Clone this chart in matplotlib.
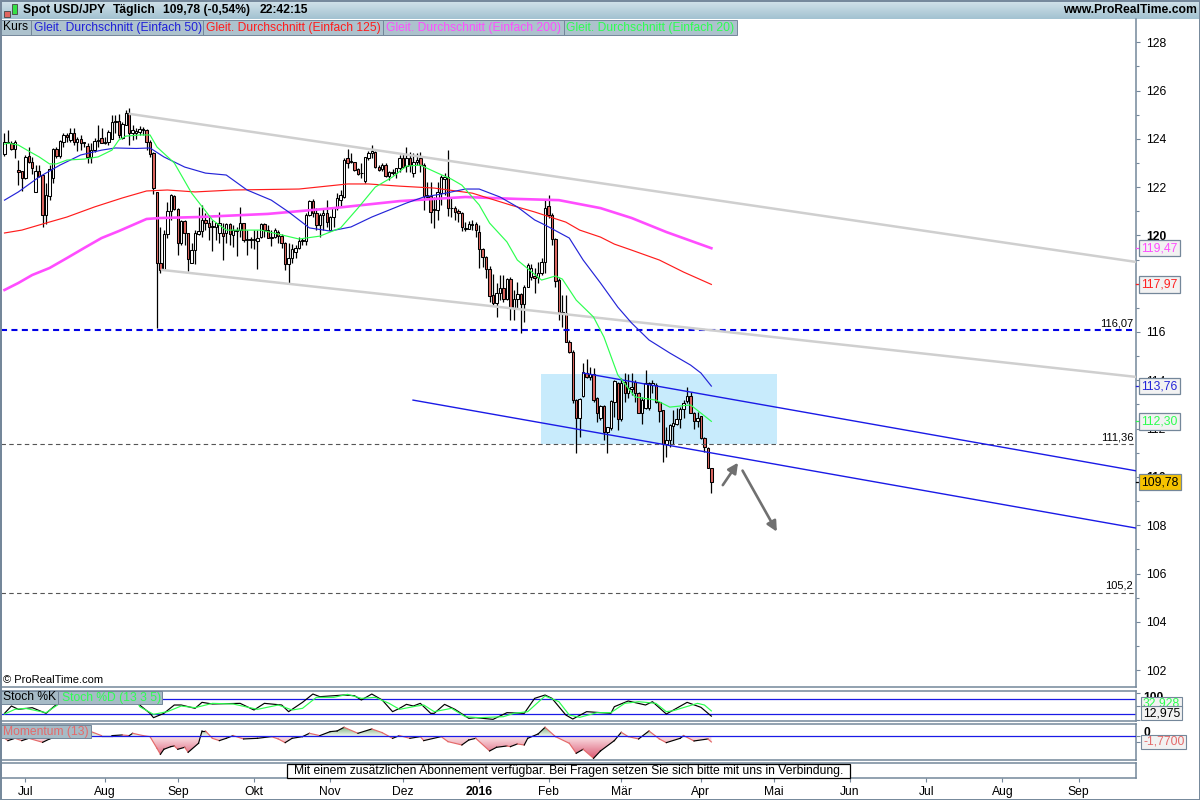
import numpy as np
import matplotlib
matplotlib.use('Agg')
from matplotlib import pyplot as plt
from matplotlib.patches import Rectangle
from matplotlib.path import Path
from matplotlib.colors import LinearSegmentedColormap

plt.rcParams['font.family'] = ['Liberation Sans', 'DejaVu Sans']

# candles, one value per trading day
opens = [123.39,123.81,123.81,123.56,122.70,122.67,122.38,123.28,123.05,121.81,
         122.66,122.49,120.84,121.64,122.36,123.56,123.30,123.88,124.15,123.97,
         124.26,123.85,124.01,123.81,123.70,123.25,123.53,123.89,124.05,123.83,
         123.87,124.01,124.68,124.73,124.04,124.59,125.08,124.25,124.25,124.29,
         124.36,124.36,123.87,123.42,121.81,118.84,118.57,120.04,121.01,121.63,
         121.08,119.67,120.61,120.09,118.87,119.40,120.06,120.20,120.64,120.50,
         120.33,120.36,120.09,120.09,120.09,120.46,120.02,120.20,120.22,120.50,
         119.81,119.81,119.81,119.78,119.95,120.46,120.22,119.91,119.92,120.15,
         119.99,119.70,118.82,119.05,119.33,119.46,119.77,119.77,120.84,121.44,
         120.91,120.43,120.83,120.91,120.22,120.75,121.12,121.47,121.60,123.19,
         123.03,123.05,122.74,122.57,122.27,123.19,123.40,123.47,122.85,122.74,
         122.91,122.47,122.60,122.60,122.78,123.19,122.87,123.19,122.60,123.05,
         123.19,122.91,121.60,121.63,121.05,121.05,121.74,122.32,122.43,121.12,
         121.15,121.01,120.94,120.28,120.28,120.43,120.46,120.13,119.42,119.09,
         118.59,117.52,117.19,117.60,117.81,117.37,118.18,116.99,117.35,117.56,
         117.16,117.88,118.29,118.32,118.29,118.43,118.89,121.22,120.85,119.84,
         118.15,116.82,116.80,115.60,115.19,113.18,112.45,113.36,114.32,114.12,
         114.26,113.25,112.43,112.94,111.87,112.01,113.12,113.90,112.38,113.94,
         113.46,113.65,113.94,113.46,112.66,112.84,112.84,113.81,113.81,113.09,
         112.77,111.35,111.53,112.12,112.19,112.40,112.80,113.16,113.35,112.66,
         112.33,112.52,111.60,111.18,110.36]
closes = [123.87,123.87,123.56,123.87,122.61,122.38,123.25,123.02,122.80,122.66,
          122.47,120.84,121.67,122.77,123.57,123.30,123.90,124.15,124.08,124.26,
          123.85,124.01,123.83,123.87,123.25,123.53,123.92,123.94,123.83,123.87,
          124.29,124.70,124.73,124.15,124.61,125.08,124.25,124.36,124.33,124.39,
          124.39,123.88,123.39,121.96,118.84,118.57,120.04,121.01,121.67,121.08,
          119.67,120.61,120.09,119.01,119.40,120.09,120.20,120.64,120.53,120.33,
          120.40,120.50,120.50,119.99,120.46,120.06,120.22,120.22,120.53,119.81,
          119.84,119.84,119.84,119.88,120.46,120.22,119.91,119.93,120.22,119.99,
          119.70,118.80,119.05,119.42,119.46,119.77,119.81,120.84,121.44,120.91,
          120.43,120.84,120.94,120.57,120.75,121.12,121.53,121.67,123.12,123.01,
          123.08,122.71,122.54,122.60,123.23,123.43,123.49,122.85,122.71,122.91,
          122.47,122.64,122.64,122.78,123.19,122.85,123.19,122.91,123.05,123.12,
          122.91,121.64,121.67,120.96,121.08,121.81,122.43,122.43,121.13,121.15,
          120.98,120.91,120.36,120.32,120.47,120.47,120.22,119.42,119.09,118.59,
          117.51,117.21,117.60,117.81,117.37,118.18,116.99,117.37,117.56,117.16,
          117.88,118.77,118.64,118.22,118.43,118.91,121.12,120.85,119.84,118.13,
          116.80,116.80,115.60,115.16,113.18,112.45,113.21,114.33,114.12,114.26,
          113.18,112.63,112.94,111.87,112.05,113.14,113.97,112.38,113.90,113.46,
          113.70,113.71,113.46,112.66,113.19,113.87,113.87,113.90,113.09,112.74,
          111.35,111.53,112.15,112.22,112.40,112.81,113.05,113.35,112.66,112.33,
          112.45,111.63,111.23,110.36,109.78]
highs = [124.22,124.36,123.92,123.94,123.14,122.67,123.32,123.67,123.25,122.91,
         122.91,122.50,122.15,122.91,123.60,123.67,123.94,124.22,124.25,124.43,
         124.43,124.08,124.15,123.87,123.83,123.81,124.05,124.57,124.43,124.08,
         124.36,124.98,124.98,125.02,124.70,125.19,125.26,124.57,124.43,124.52,
         124.50,124.39,123.94,123.46,121.81,120.36,120.22,121.40,121.70,121.66,
         121.12,120.64,120.64,120.09,119.67,120.22,121.16,121.26,120.91,120.75,
         120.64,120.53,120.96,120.50,120.50,120.50,120.43,120.36,121.19,120.50,
         120.22,119.95,120.22,120.22,120.50,120.50,120.43,120.22,120.29,120.22,
         120.06,119.74,119.67,119.63,119.60,119.95,119.88,120.91,121.47,121.49,
         121.12,120.91,121.12,121.47,120.80,121.19,121.74,121.88,123.19,123.56,
         123.40,123.05,122.78,122.98,123.26,123.51,123.74,123.49,122.91,122.98,
         122.98,122.68,122.74,122.80,123.33,123.40,123.67,123.47,123.40,123.40,
         123.47,122.98,122.22,122.22,121.60,122.22,122.50,122.57,123.54,121.54,
         121.22,121.08,120.98,120.57,120.61,120.64,120.57,120.43,119.47,119.15,
         118.73,118.39,118.02,118.36,118.36,118.22,118.29,117.74,118.08,117.60,
         117.95,118.84,118.82,118.64,118.91,119.05,121.47,121.67,120.91,119.88,
         118.22,117.53,117.53,115.67,115.25,113.21,113.25,114.70,114.87,114.56,
         114.50,113.32,112.98,112.98,112.08,113.18,114.01,113.94,114.08,114.29,
         114.26,114.29,114.01,113.53,113.32,114.43,113.94,114.01,113.87,113.12,
         112.77,112.08,112.19,112.77,112.84,112.91,113.18,113.71,113.53,112.70,
         112.70,112.52,111.64,111.22,110.36]
lows = [123.30,123.81,123.53,123.19,122.08,121.85,122.35,122.98,122.56,121.80,
        122.43,120.36,120.49,121.46,122.15,123.19,123.19,123.67,123.88,123.88,
        123.74,123.50,123.53,123.67,122.98,122.98,123.46,123.67,123.83,123.78,
        123.74,124.01,124.22,124.05,124.01,124.57,123.74,123.94,124.01,124.15,
        124.15,123.53,123.25,121.73,116.15,118.43,118.57,119.88,120.64,121.05,
        119.19,119.60,119.60,118.54,118.84,118.80,120.02,119.95,120.22,119.81,
        119.37,119.81,119.67,118.98,119.67,119.60,119.53,119.15,119.95,119.74,
        119.19,119.46,119.42,118.61,119.88,119.95,119.88,119.56,119.88,119.67,
        119.46,118.57,118.02,118.87,119.05,119.42,119.60,119.60,120.80,120.78,
        120.22,119.95,120.22,120.36,120.18,120.36,121.05,121.19,121.53,122.78,
        122.98,122.68,122.50,122.36,122.18,123.12,123.19,122.78,122.68,122.68,
        122.43,122.29,122.50,122.36,122.64,122.78,122.64,122.64,122.43,122.91,
        122.64,121.05,121.60,120.50,120.29,120.64,121.26,121.67,120.80,120.78,
        120.64,120.57,120.20,120.20,120.25,120.22,119.95,118.64,118.68,118.22,
        117.26,117.12,116.64,117.33,117.26,117.33,116.50,116.50,116.98,115.95,
        116.43,117.88,118.15,117.60,118.02,118.36,118.43,120.71,119.60,117.88,
        116.50,116.22,115.60,115.12,113.07,110.98,111.64,113.32,114.08,114.01,
        113.12,112.29,112.36,111.53,111.00,111.94,112.50,111.94,112.33,113.12,
        113.25,113.39,113.12,112.63,112.19,112.80,112.77,113.46,113.05,112.29,
        110.63,110.81,111.25,111.35,112.15,112.01,112.43,113.05,112.63,111.98,
        112.08,111.56,111.05,110.36,109.32]

# moving averages, read at selected bars
ma50_bars = [0,4,10,16,22,28,32,38,42,46,52,58,64,70,77,82,88,94,100,106,111,116,121,126,
             133,137,143,148,153,156,163,167,172,177,181,186,192,198,201,204]
ma50 = [121.46,121.80,122.42,122.91,123.33,123.53,123.62,123.60,123.62,123.25,122.83,122.58,
        122.50,121.88,121.46,120.97,120.31,120.18,120.35,120.76,121.05,121.34,121.59,121.71,
        121.92,121.92,121.59,121.18,120.64,120.43,119.89,118.98,118.03,117.03,116.37,115.67,
        115.13,114.63,114.30,113.76]
ma125_bars = [0,5,10,18,26,34,41,47,55,66,85,99,105,114,124,135,146,153,162,166,172,176,181,189,196,204]
ma125 = [120.10,120.22,120.43,120.76,121.18,121.55,121.84,121.88,121.80,121.88,121.92,122.13,
         122.13,122.04,121.96,121.75,121.26,120.97,120.55,120.22,119.93,119.64,119.39,118.98,
         118.48,117.97]
ma200_bars = [0,4,8,13,18,23,28,33,37,41,45,56,76,95,114,133,148,160,172,181,191,204]
ma200 = [117.74,118.03,118.36,118.65,119.06,119.48,119.89,120.18,120.43,120.68,120.72,120.76,
         120.89,121.13,121.42,121.59,121.51,121.46,121.13,120.72,120.14,119.47]
ma20_bars = [0,1,4,7,10,13,15,18,23,27,31,33,35,39,42,44,49,54,60,64,68,74,80,85,91,97,102,107,
             112,116,120,125,129,132,137,140,145,148,155,159,161,165,170,173,177,182,188,192,198,204]
ma20 = [123.78,123.82,123.74,123.49,123.25,122.96,122.96,123.12,123.16,123.25,123.53,123.95,
        124.11,124.16,124.16,123.66,123.00,121.75,120.64,120.22,120.22,120.22,120.02,119.85,
        119.97,120.31,121.13,122.00,122.42,122.87,122.91,122.58,122.33,122.08,121.26,120.51,
        119.73,118.98,118.15,118.32,118.19,117.32,116.62,115.79,114.22,113.31,113.18,112.89,
        112.98,112.30]

# stochastic
stoch_k_bars = [0,2,4,8,12,14,16,20,28,36,39,42,43,46,49,51,55,57,60,68,72,75,80,82,86,89,91,98,
                101,103,106,109,112,114,116,118,120,123,124,127,130,134,136,141,145,150,153,156,
                158,162,164,168,175,176,180,185,187,191,197,201,204]
stoch_k = [23.6,51.5,38.8,45.1,23.6,46.4,67.9,70,75,82,55.3,23.6,7.2,23.6,55.3,55.3,42.6,65.4,59.1,
           61.6,36.3,61.6,55.3,30,65.4,97,86.9,93.2,90.7,74.3,97,74.3,30,42.6,57.8,51.5,61.6,23.6,
           23.6,57.8,38.8,4.6,7.2,0.8,26.2,23.6,80.6,93.2,80.6,17.3,2.1,30,23.6,49,70.5,55.3,67.9,
           21.1,65.4,46.4,12.975]
stoch_d_bars = [0,3,6,12,16,24,32,38,39,43,47,51,55,60,66,73,79,83,86,90,95,99,103,107,111,114,119,
                121,124,129,133,137,144,147,151,156,160,163,166,171,175,179,183,188,191,193,200,202,204]
stoch_d = [21,38.8,42.6,26.2,61.6,72,75,80,49,19.8,30,51.5,45.1,61.6,59.1,38.8,55.3,36.3,42.6,84.4,
           84.4,95.8,80.6,84.4,61.6,38.8,51.5,55.3,30,42.6,10.9,7.2,10.9,23.6,30,89.5,67.9,17.3,8.4,
           26.2,26.2,61.6,67.9,61.6,30,33.7,61.6,55.3,32.928]

# momentum
mom_bars = [0,1,3,5,7,11,13,18,24,25,28,31,34,36,37,40,42,44,45,46,48,49,50,52,53,56,57,58,60,62,64,
            66,69,73,77,79,81,83,86,88,91,94,96,98,102,106,109,112,114,117,120,121,126,128,132,134,
            136,140,142,145,146,148,150,151,154,156,159,163,165,167,170,172,176,178,180,183,186,189,
            191,195,196,199,203,204]
mom = [-0.63,-1.35,-0.63,-1.35,-0.63,-1.88,-0.83,0.94,2.5,1.46,0.21,0.21,0.42,0.21,0.94,0.21,-0.1,
       -3.75,-5.63,-4.06,-3.23,-3.02,-4.06,-3.44,-5.0,-2.19,1.67,1.67,-0.63,-1.35,-0.63,0.21,-0.83,
       -0.63,-0.1,-0.83,-1.98,-0.63,-0.1,0.94,0.21,1.46,1.67,2.81,0.94,2.29,1.15,-0.63,0.21,-0.63,
       -0.1,-1.35,-0.1,-1.67,-2.71,-1.15,-0.63,-4.58,-3.44,-3.02,-3.23,-2.4,-2.71,-0.63,0.73,2.81,
       -0.1,-2.19,-5.31,-4.06,-6.88,-4.58,-1.35,1.25,-0.1,-0.83,1.67,-0.83,-1.98,-0.63,0.21,-1.46,
       -0.83,-1.77]

# drawn objects on the chart: (bar, price) ends
grey_upper_x, grey_upper_y = [36.2, 326.6], [125.03, 118.90]
grey_lower_x, grey_lower_y = [45.5, 326.6], [118.57, 114.14]
blue_upper_x, blue_upper_y = [167, 326.6], [114.30, 110.25]
blue_lower_x, blue_lower_y = [117.9, 326.6], [113.18, 107.88]
zone_x, zone_y = [154.8, 222.9], [111.38, 114.26]
arrow_up_x, arrow_up_y = [207.3, 211.7], [109.66, 110.59]
arrow_down_x, arrow_down_y = [213.0, 222.9], [110.26, 107.73]

month_bars = [6,29,50,72,94,115,137,157,178,201,222,244,266,288,310]
month_labels = ['Jul','Aug','Sep','Okt','Nov','Dez','2016','Feb','Mär','Apr','Mai','Jun','Jul','Aug','Sep']

slate = '#74879a'
bar_w = 1136.0 - 1.0


def add_panel(top, bottom):
    # pixel rows of the 1200x800 picture to an axes
    a = fig.add_axes([1/1200, 1-bottom/800, bar_w/1200, (bottom-top)/800])
    a.set_xlim(-1.01, 326.55)
    a.patch.set_alpha(0)
    for s in a.spines.values():
        s.set_color(slate)
        s.set_linewidth(1.1)
    a.set_xticks([])
    a.yaxis.tick_right()
    return a


def box(x0, y0, x1, y1, fc, ec=slate, lw=0.8, z=5):
    fig.add_artist(Rectangle((x0/1200, 1-y1/800), (x1-x0)/1200, (y1-y0)/800, transform=fig.transFigure,
                             facecolor=fc, edgecolor=ec, linewidth=lw, zorder=z))


def label(x, y, s, color='k', size=8.7, weight='normal', ha='left', z=6):
    fig.text(x/1200, 1-y/800, s, color=color, fontsize=size, fontweight=weight, ha=ha, va='center', zorder=z)


fig = plt.figure(figsize=(12, 8), dpi=100, facecolor='white')

# title bar
ax_top = fig.add_axes([0, 1-19/800, 1, 19/800])
ax_top.imshow(np.linspace(0, 1, 19).reshape(-1, 1), aspect='auto',
              cmap=LinearSegmentedColormap.from_list('bar', ['#d3e3ea', '#a3c2d1']))
ax_top.axis('off')

# main price panel
ax = add_panel(19, 687)
ax.set_ylim(116-355/24.15, 116+313/24.15)
ax.spines['top'].set_visible(False)

ax.add_patch(Rectangle((zone_x[0], zone_y[0]), zone_x[1]-zone_x[0], zone_y[1]-zone_y[0],
                       facecolor='#c8ebfc', edgecolor='none', zorder=1))

bars = np.arange(len(opens))
op, hi, lo, cl = map(np.array, (opens, highs, lows, closes))
ax.vlines(bars, lo, hi, color='k', linewidth=0.9, zorder=2)
fills = ['white' if c >= o else '#dd6660' for o, c in zip(op, cl)]
ax.bar(bars, np.abs(cl-op), bottom=np.minimum(op, cl), width=0.7, color=fills, edgecolor='k',
       linewidth=0.75, zorder=3)

ax.axhline(116.07, color='#0000e6', linewidth=1.5, dashes=(2.9, 2.1), zorder=4)
ax.axhline(111.36, color='#555555', linewidth=0.8, dashes=(4, 3), zorder=4)
ax.axhline(105.2, color='#555555', linewidth=0.8, dashes=(4, 3), zorder=4)

ax.plot(grey_upper_x, grey_upper_y, color='#cfcfcf', linewidth=1.8, zorder=4)
ax.plot(grey_lower_x, grey_lower_y, color='#cfcfcf', linewidth=1.8, zorder=4)
ax.plot(blue_upper_x, blue_upper_y, color='#1a1ae6', linewidth=1.0, zorder=5)
ax.plot(blue_lower_x, blue_lower_y, color='#1a1ae6', linewidth=1.0, zorder=5)

ax.plot(ma200_bars, ma200, color='#ff4dff', linewidth=1.9, zorder=5)
ax.plot(ma125_bars, ma125, color='#ff1c1c', linewidth=0.85, zorder=5)
ax.plot(ma50_bars, ma50, color='#2424d8', linewidth=0.85, zorder=5)
ax.plot(ma20_bars, ma20, color='#2dff50', linewidth=0.85, zorder=5)

for xs, ys in ((arrow_up_x, arrow_up_y), (arrow_down_x, arrow_down_y)):
    ax.annotate('', xy=(xs[1], ys[1]), xytext=(xs[0], ys[0]), zorder=6,
                arrowprops=dict(arrowstyle='-|>', color='#707070', linewidth=1.9, mutation_scale=15,
                                shrinkA=0, shrinkB=0))

ax.set_yticks(np.arange(102, 130, 2))
ax.set_yticks(np.arange(103, 129, 2), minor=True)
ax.tick_params(axis='y', which='major', length=3, width=0.8, color=slate, pad=4.5, labelsize=8.7)
ax.tick_params(axis='y', which='minor', length=2.5, width=0.8, color=slate)
ax.set_xticks([])
ax.set_yticklabels([str(v) for v in np.arange(102, 130, 2)])
for t, v in zip(ax.get_yticklabels(), np.arange(102, 130, 2)):
    if v in (110, 120):
        t.set_fontweight('bold')

yx = ax.get_yaxis_transform()
for v, s in ((116.07, '116,07'), (111.36, '111,36'), (105.2, '105,2')):
    ax.text(0.9975, v+0.08, s, transform=yx, ha='right', va='bottom', fontsize=8.0, zorder=7)

# value tags at the right edge
tags = [(119.47, '119,47', '#ff4dff', '#f2f2f2'), (117.97, '117,97', '#ff2020', '#f2f2f2'),
        (113.76, '113,76', '#2424d8', '#f2f2f2'), (112.30, '112,30', '#2dff50', '#f2f2f2'),
        (109.78, '109,78', 'k', '#f6c200')]
for v, s, c, fc in tags:
    ax.plot([1.0, 1.0035], [v, v], transform=yx, color=c, linewidth=0.9, clip_on=False, zorder=7)
    ax.text(1.0048, v, s, transform=yx, color=c, fontsize=8.7, va='center', ha='left', zorder=8, clip_on=False,
            bbox=dict(boxstyle='square,pad=0.18', facecolor=fc, edgecolor=slate, linewidth=0.9))

# stochastic panel
ax2 = add_panel(691, 721)
ax2.set_ylim(20-6.7/0.2633, 20+23.3/0.2633)
ax2.axhline(80, color='#1a1ae6', linewidth=0.9, zorder=2)
ax2.axhline(20, color='#1a1ae6', linewidth=0.9, zorder=2)
ax2.plot(stoch_k_bars, stoch_k, color='k', linewidth=0.85, zorder=3)
ax2.plot(stoch_d_bars, stoch_d, color='#2dff50', linewidth=0.85, zorder=3)
ax2.set_yticks([100, 50, 0])
ax2.set_yticklabels([])
ax2.tick_params(axis='y', length=3, width=0.8, color=slate)

# momentum panel
ax3 = add_panel(724, 760)
ax3.set_ylim(-23.7/3.2, 12.3/3.2)
x_m = np.array(mom_bars, dtype=float)
y_m = np.array(mom)
for where, vals, cols in ((y_m <= 0, [-7.4, 0], ['#d94f6a', '#fbe3e7']), (y_m >= 0, [0, 3.84], ['#f0f7f0', '#4f944f'])):
    poly = ax3.fill_between(x_m, y_m, 0, where=where, interpolate=True, facecolor='none', edgecolor='none')
    grad = ax3.imshow(np.linspace(0, 1, 64).reshape(-1, 1), origin='lower', aspect='auto', zorder=1,
                      extent=(-1.01, 326.55, vals[0], vals[1]),
                      cmap=LinearSegmentedColormap.from_list('m', cols))
    grad.set_clip_path(Path.make_compound_path(*poly.get_paths()), transform=ax3.transData)
ax3.set_xlim(-1.01, 326.55)
ax3.set_ylim(-23.7/3.2, 12.3/3.2)
# rising parts black, falling parts red
for a, b, c, d in zip(x_m[:-1], x_m[1:], y_m[:-1], y_m[1:]):
    ax3.plot([a, b], [c, d], color='k' if d >= c else '#e46a6a', linewidth=0.85, zorder=3)
ax3.axhline(0, color='#1a1ae6', linewidth=0.9, zorder=4)
ax3.set_yticks([0, -1.77])
ax3.set_yticklabels([])
ax3.tick_params(axis='y', length=3, width=0.8, color=slate)

# strip with notice and the months
ax4 = add_panel(763, 778)
ax4.set_ylim(0, 1)
ax4.set_yticks([])
ax4.set_xticks(month_bars)
ax4.set_xticklabels(month_labels, fontsize=8.7)
ax4.get_xticklabels()[6].set_fontweight('bold')
ax4.tick_params(axis='x', length=3, width=0.8, color=slate, pad=3)

box(287, 763.5, 850, 778, 'white', ec='k', lw=0.9)
label(568.5, 771, 'Mit einem zusätzlichen Abonnement verfügbar. Bei Fragen setzen Sie sich bitte mit uns in Verbindung.',
      ha='center')

# header texts
label(23, 10, 'Spot USD/JPY', weight='bold')
label(113, 10, 'Täglich', weight='bold')
label(163, 10, '109,78 (-0,54%)', weight='bold')
label(260, 10, '22:42:15', weight='bold')
label(1197, 10, 'www.ProRealTime.com', weight='bold', ha='right')
box(4, 10.5, 9.5, 16.5, '#e06560', ec='#444444', lw=0.6)
box(11.5, 4, 17, 14, '#35e045', ec='#444444', lw=0.6)

legend_row = [(1, 31, 'Kurs', 'k'), (31, 203, 'Gleit. Durchschnitt (Einfach 50)', '#2020d8'),
              (203, 383, 'Gleit. Durchschnitt (Einfach 125)', '#ff1c1c'),
              (383, 564, 'Gleit. Durchschnitt (Einfach 200)', '#ff4dff'),
              (564, 737, 'Gleit. Durchschnitt (Einfach 20)', '#2dff50')]
for x0, x1, s, c in legend_row:
    box(x0, 20, x1, 35, '#adc2cd', lw=0.7)
    label(x0+2.5, 27.5, s, color=c)

label(3, 680, '© ProRealTime.com', size=8.0)

box(1, 691, 58, 704, '#a6bbc6', lw=0.7)
label(3, 697.5, 'Stoch %K')
box(58, 691, 162, 704, '#a6bbc6', lw=0.7)
label(62, 697.5, 'Stoch %D (13 3 5)', color='#2dff50')
box(1, 725, 91, 738, '#a6bbc6', lw=0.7)
label(3, 731.5, 'Momentum (13)', color='#e46a6a')

# tags of the lower panels, later ones sit on top
label(1143, 698, '100', weight='bold', z=6)
label(1143, 733, '0', weight='bold', z=6)
box(1140.5, 697, 1182, 708, '#f2f2f2', z=7)
label(1143, 703, '32,928', color='#2dff50', z=7)
box(1140.5, 706, 1182, 720, '#f2f2f2', z=8)
label(1143, 713, '12,975', z=8)
box(1140.5, 734.5, 1186, 749, '#f2f2f2', z=7)
label(1143, 742, '-1,7700', color='#e46a6a', z=7)

# outer frame
box(0.5, 0.5, 1199.5, 799.5, 'none', lw=1.4, z=9)

fig.savefig('out.png', dpi=100)
